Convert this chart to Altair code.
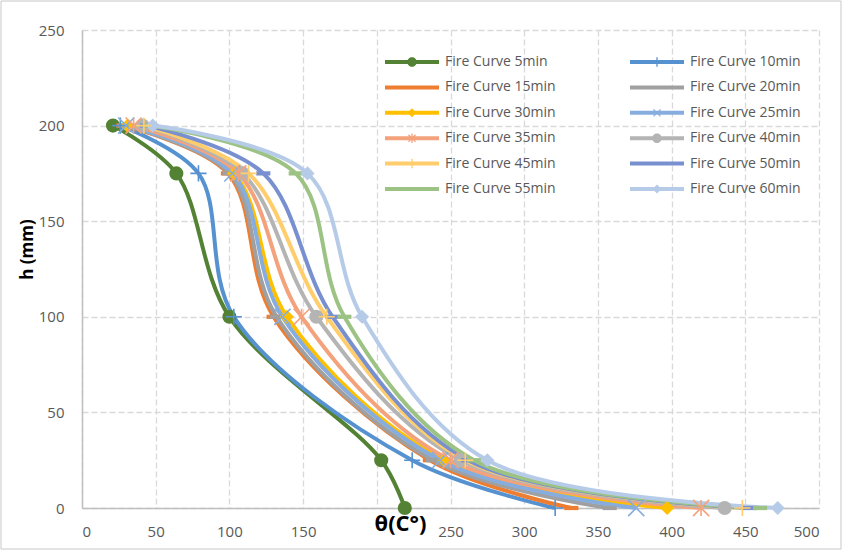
import altair as alt
import pandas as pd

# Series names, in legend order (row by row, two per row)
SERIES = [
    "Fire Curve 5min", "Fire Curve 10min", "Fire Curve 15min", "Fire Curve 20min",
    "Fire Curve 30min", "Fire Curve 25min", "Fire Curve 35min", "Fire Curve 40min",
    "Fire Curve 45min", "Fire Curve 50min", "Fire Curve 55min", "Fire Curve 60min",
]

# Depth levels (mm) and temperatures (°C) at each level, one list per series
HEIGHTS = [200, 175, 100, 25, 0]
T_5MIN = [21, 64, 100, 203, 219]
T_10MIN = [26, 79, 103, 224, 321]
T_15MIN = [28, 99, 130, 236, 332]
T_20MIN = [29, 100, 132, 238, 358]
T_30MIN = [31, 103, 139, 246, 397]
T_25MIN = [30, 102, 136, 243, 376]
T_35MIN = [35, 106, 149, 250, 420]
T_40MIN = [41, 109, 159, 257, 436]
T_45MIN = [42, 113, 166, 260, 448]
T_50MIN = [44, 123, 170, 262, 453]
T_55MIN = [46, 145, 178, 266, 460]
T_60MIN = [48, 153, 190, 275, 472]

TEMPS = [T_5MIN, T_10MIN, T_15MIN, T_20MIN, T_30MIN, T_25MIN,
         T_35MIN, T_40MIN, T_45MIN, T_50MIN, T_55MIN, T_60MIN]

COLORS = ["#548235", "#5592CF", "#ED7D31", "#A0A0A0", "#FFC000", "#86ADDE",
          "#F4A27C", "#B4B4B4", "#FFCD6B", "#7890CF", "#9CC384", "#B6CBE8"]

# marker kind per series
KINDS = ["circle", "plus", "dash", "dash", "diamond", "x",
         "star", "circle", "plus", "dash", "dash", "diamond"]

PLOT_PATHS = {
    "circle": "circle",
    "diamond": "diamond",
    "dash": "M-1,-0.3H1V0.3H-1Z",
    "plus": "M-1,0H1M0,-1V1",
    "x": "M-1,-1L1,1M-1,1L1,-1",
    "star": "M-1,-1L1,1M-1,1L1,-1M0,-1V1",
}
FILLED_KINDS = {"circle", "diamond", "dash"}

# Legend symbols: a short line segment with the series marker on it,
# all drawn as filled outlines wound the same way.
LINE = "M-5.4,-0.4H5.4V0.4H-5.4Z"
TICK = " M-0.13,-0.95H0.13V0.95H-0.13Z"
DIAG = (" M-0.615,-0.785L0.785,0.615L0.615,0.785L-0.785,-0.615Z"
        " M-0.785,0.615L0.615,-0.785L0.785,-0.615L-0.615,0.785Z")
LEGEND_PATHS = {
    "circle": LINE + " M0.95,0A0.95,0.95 0 1 1 -0.95,0A0.95,0.95 0 1 1 0.95,0Z",
    "diamond": LINE + " M0,-0.9L0.9,0L0,0.9L-0.9,0Z",
    "dash": LINE,
    "plus": LINE + TICK,
    "x": LINE + DIAG,
    "star": LINE + DIAG + TICK,
}

rows = []
for s, temps, kind in zip(SERIES, TEMPS, KINDS):
    for i, (h, t) in enumerate(zip(HEIGHTS, temps)):
        rows.append({"series": s, "h": h, "t": t, "idx": i,
                     "filled": kind in FILLED_KINDS})
df = pd.DataFrame(rows)

FONT = "Open Sans"
TXT = "#595959"

# The legend grid fills column by column, so list the entries that way
# to read row by row: left column first, then right column.
col_order = list(range(0, 12, 2)) + list(range(1, 12, 2))
LEG_SERIES = [SERIES[i] for i in col_order]
LEG_COLORS = [COLORS[i] for i in col_order]
LEG_PATHS = [LEGEND_PATHS[KINDS[i]] for i in col_order]

series_color = alt.Scale(domain=SERIES, range=COLORS)
plot_shape = alt.Scale(domain=SERIES, range=[PLOT_PATHS[k] for k in KINDS])
legend_color = alt.Scale(domain=LEG_SERIES, range=LEG_COLORS)
legend_shape = alt.Scale(domain=LEG_SERIES, range=LEG_PATHS)

x_enc = alt.X(
    "t:Q",
    scale=alt.Scale(domain=[0, 500], nice=False),
    axis=alt.Axis(
        values=list(range(0, 501, 50)), title="θ(C°)",
        labelExpr="datum.value == 200 ? '' : datum.label",
        titleFontSize=22, titleFontWeight="bold", titleColor="#000000", titleFont=FONT,
        titleX=318, titleY=15, titleBaseline="middle", titleAlign="center",
        labelFontSize=15, labelColor=TXT, labelFont=FONT, labelPadding=16,
        ticks=False, domainColor="#BFBFBF", domainWidth=1.5,
        grid=True, gridColor="#D9D9D9", gridDash=[6, 3], gridWidth=1.3,
    ),
)
y_enc = alt.Y(
    "h:Q",
    scale=alt.Scale(domain=[0, 250], nice=False),
    axis=alt.Axis(
        values=list(range(0, 251, 50)), title="h (mm)",
        titleFontSize=17, titleFontWeight="bold", titleColor="#000000", titleFont=FONT,
        titleX=-55, titleY=219, titleAngle=270, titleBaseline="middle", titleAlign="center",
        labelFontSize=15, labelColor=TXT, labelFont=FONT, labelPadding=18,
        ticks=False, domainColor="#BFBFBF", domainWidth=1.5,
        grid=True, gridColor="#D9D9D9", gridDash=[6, 3], gridWidth=1.3,
    ),
)

frame = alt.Chart(alt.Data(values=[{}])).mark_rect(
    fillOpacity=0, stroke="#C8C8C8", strokeWidth=1, clip=False
).encode(
    x=alt.value(-81), x2=alt.value(759), y=alt.value(-29), y2=alt.value(519)
)

base = alt.Chart(df)

lines = base.mark_line(interpolate="catmull-rom", strokeWidth=4).encode(
    x=x_enc, y=y_enc,
    color=alt.Color("series:N", scale=series_color, legend=None),
    order=alt.Order("idx:Q"),
    detail="series:N",
)

points_filled = base.transform_filter("datum.filled").mark_point(
    filled=True, opacity=1, size=200
).encode(
    x="t:Q", y="h:Q",
    color=alt.Color("series:N", scale=series_color, legend=None),
    shape=alt.Shape("series:N", scale=plot_shape, legend=None),
)

points_stroked = base.transform_filter("!datum.filled").mark_point(
    filled=False, opacity=1, size=260, strokeWidth=1.6
).encode(
    x="t:Q", y="h:Q",
    color=alt.Color("series:N", scale=series_color, legend=None),
    shape=alt.Shape("series:N", scale=plot_shape, legend=None),
)


def series_legend():
    return alt.Legend(
        title=None, orient="none", legendX=301, legendY=25, columns=2,
        symbolSize=100, symbolStrokeWidth=0, symbolOpacity=1,
        symbolOffset=22, labelOffset=26, columnPadding=72, rowPadding=11.4,
        labelFontSize=14, labelColor=TXT, labelFont=FONT, labelLimit=200,
    )


legend_layer = base.transform_filter("datum.idx == 0").mark_point(
    filled=True, opacity=0
).encode(
    x="t:Q", y="h:Q",
    color=alt.Color("series:N", scale=legend_color, legend=series_legend()),
    shape=alt.Shape("series:N", scale=legend_shape, legend=series_legend()),
)

chart = alt.layer(
    frame, lines, points_filled, points_stroked, legend_layer
).resolve_scale(shape="independent", color="independent").properties(
    width=737, height=478,
    autosize=alt.AutoSizeParams(type="none"),
    padding={"left": 82, "top": 30, "right": 23, "bottom": 43},
    background="#FFFFFF",
).configure_view(stroke=None)

chart.save("out.html", embed_options={"renderer": "svg", "actions": False})
